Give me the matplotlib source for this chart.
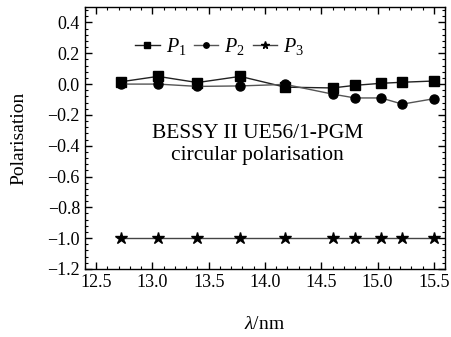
import matplotlib
matplotlib.use('Agg')
import matplotlib.pyplot as plt
from matplotlib.ticker import MultipleLocator, AutoMinorLocator

plt.rcParams['font.family'] = 'Liberation Serif'
plt.rcParams['mathtext.fontset'] = 'custom'
plt.rcParams['mathtext.rm'] = 'Liberation Serif'
plt.rcParams['mathtext.it'] = 'Liberation Serif:italic'

# wavelength (nm) and measured polarisation components
wavelength = [12.72, 13.05, 13.40, 13.78, 14.18, 14.60, 14.80, 15.03, 15.22, 15.50]
p1 = [0.015, 0.05, 0.01, 0.05, -0.02, -0.025, -0.008, 0.005, 0.012, 0.02]
p2 = [0.0, 0.0, -0.015, -0.012, -0.002, -0.065, -0.09, -0.09, -0.13, -0.095]
p3 = [-1.0] * 10

fig = plt.figure(figsize=(4.51, 3.37), dpi=100)
ax = fig.add_axes([0.188, 0.202, 0.799, 0.777])

ax.plot(wavelength, p1, '-s', color='#222222', lw=1.0, ms=6.5, mfc='black', mec='black', label='$P_1$')
ax.plot(wavelength, p2, '-o', color='#555555', lw=1.0, ms=6.5, mfc='black', mec='black', label='$P_2$')
ax.plot(wavelength, p3, '-*', color='#444444', lw=1.0, ms=9, mfc='black', mec='black', label='$P_3$')

ax.set_xlim(12.4, 15.6)
ax.set_ylim(-1.2, 0.5)
ax.xaxis.set_major_locator(MultipleLocator(0.5))
ax.xaxis.set_minor_locator(AutoMinorLocator(5))
ax.yaxis.set_major_locator(MultipleLocator(0.2))
ax.yaxis.set_minor_locator(AutoMinorLocator(5))
ax.tick_params(which='both', direction='in', top=True, right=True, labelsize=13)
ax.tick_params(which='major', length=5, width=1)
ax.tick_params(which='minor', length=2.5, width=0.8)
for s in ax.spines.values():
    s.set_linewidth(1.0)

ax.set_xlabel(r'$\mathit{\lambda}$/nm', fontsize=14, labelpad=18)
ax.set_ylabel('Polarisation', fontsize=14, labelpad=14)

ax.legend(loc='upper left', bbox_to_anchor=(0.09, 0.96), ncol=3, frameon=False,
          fontsize=14.5, handlelength=1.2, handletextpad=0.3, columnspacing=0.4,
          markerscale=0.6)

ax.text(0.48, 0.475, 'BESSY II UE56/1-PGM\ncircular polarisation', transform=ax.transAxes,
        ha='center', va='center', fontsize=15.5, linespacing=1.15)

fig.savefig('out.png', dpi=100)
